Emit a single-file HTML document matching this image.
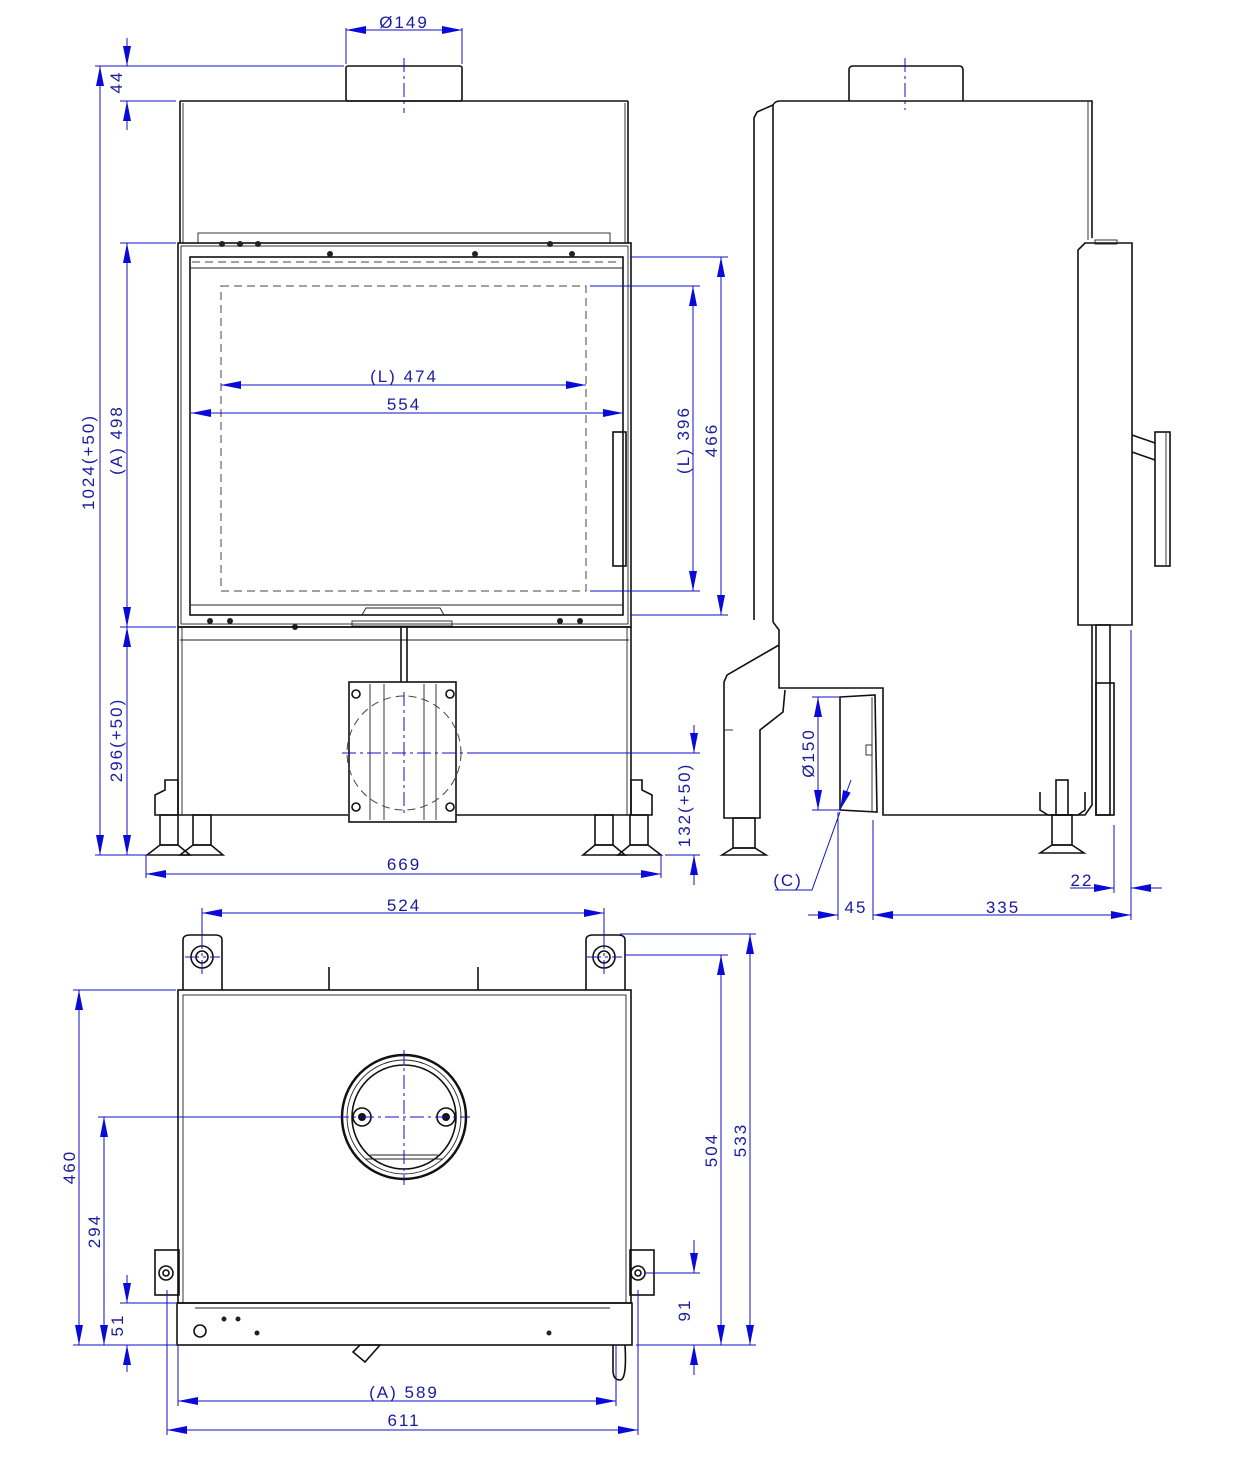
<!DOCTYPE html>
<html><head><meta charset="utf-8"><style>
html,body{margin:0;padding:0;background:#fff}
svg{display:block}
.k{fill:none;stroke:#111;stroke-width:1.6}
.t{fill:none;stroke:#222;stroke-width:0.9}
.d{stroke:#1010c8;stroke-width:1;fill:none}
.c{stroke:#1010c8;stroke-width:1;fill:none;stroke-dasharray:14 4 3 4}
.h{fill:none;stroke:#444;stroke-width:1;stroke-dasharray:8 5}
text{font-family:"Liberation Sans Narrow","Liberation Sans",sans-serif;font-size:17px;fill:#1a1aa0;letter-spacing:2px}
</style></head><body>
<svg width="1241" height="1471" viewBox="0 0 1241 1471" xmlns="http://www.w3.org/2000/svg">
<defs>
<marker id="a" viewBox="0 0 20 8" refX="20" refY="4" markerWidth="20" markerHeight="8" markerUnits="userSpaceOnUse" orient="auto-start-reverse"><path d="M0,0 L20,4 L0,8 Z" fill="#0a0ad8"/></marker>
</defs>

<!-- ========== FRONT VIEW ========== -->
<rect class="k" x="346" y="66" width="116" height="35" rx="2"/>
<line class="c" x1="404" y1="58" x2="404" y2="113"/>
<line class="k" x1="180" y1="101" x2="628" y2="101"/>
<line class="k" x1="180" y1="101" x2="180" y2="243"/>
<line class="k" x1="628" y1="101" x2="628" y2="243"/>
<line class="t" x1="183" y1="103" x2="183" y2="243"/>
<line class="t" x1="625" y1="103" x2="625" y2="243"/>
<rect class="t" x="198" y="233" width="412" height="10"/>
<!-- glass frame -->
<rect class="k" x="178" y="243" width="453" height="384"/>
<rect class="t" x="181" y="246" width="447" height="378"/>
<rect class="k" x="190" y="257" width="433" height="358"/>
<line class="h" x1="192" y1="262" x2="621" y2="262"/>
<line class="t" x1="190" y1="268" x2="623" y2="268"/>
<line class="t" x1="190" y1="605" x2="623" y2="605"/>
<rect class="h" x="221" y="286" width="365" height="305"/>
<rect class="k" x="613" y="432" width="13" height="134"/>
<path class="t" d="M362,615 L366,608 L440,608 L444,615"/>
<g fill="#222">
<circle cx="222" cy="244" r="3"/><circle cx="240" cy="244" r="3"/><circle cx="258" cy="244" r="3"/>
<circle cx="330" cy="254" r="3"/><circle cx="475" cy="254" r="3"/><circle cx="572" cy="254" r="3"/><circle cx="550" cy="244" r="3"/>
<circle cx="210" cy="621" r="3"/><circle cx="230" cy="621" r="3"/><circle cx="560" cy="621" r="3"/><circle cx="580" cy="621" r="3"/><circle cx="295" cy="627" r="3"/>
</g>
<rect class="t" x="352" y="621" width="100" height="5"/>
<!-- lower part -->
<line class="k" x1="178" y1="627" x2="631" y2="627"/>
<line class="t" x1="180" y1="640" x2="629" y2="640"/>
<line class="k" x1="178" y1="627" x2="178" y2="815"/>
<line class="k" x1="631" y1="627" x2="631" y2="815"/>
<line class="t" x1="182" y1="627" x2="182" y2="815"/>
<line class="t" x1="627" y1="627" x2="627" y2="815"/>
<line class="k" x1="178" y1="815" x2="348" y2="815"/>
<line class="k" x1="456" y1="815" x2="631" y2="815"/>
<line class="k" x1="401" y1="627" x2="401" y2="682"/>
<line class="k" x1="407" y1="627" x2="407" y2="682"/>
<rect class="k" x="349" y="682" width="107" height="140"/>
<line class="t" x1="370" y1="684" x2="370" y2="820"/><line class="t" x1="384" y1="684" x2="384" y2="820"/>
<line class="t" x1="424" y1="684" x2="424" y2="820"/><line class="t" x1="436" y1="684" x2="436" y2="820"/>
<circle class="k" cx="356" cy="694" r="4"/><circle class="k" cx="450" cy="694" r="4"/>
<circle class="k" cx="356" cy="807" r="4"/><circle class="k" cx="450" cy="807" r="4"/>
<circle class="h" cx="404" cy="753" r="57"/>
<line class="c" x1="404" y1="692" x2="404" y2="815"/>
<line class="c" x1="342" y1="753" x2="470" y2="753"/>
<!-- legs -->
<g class="k">
<path d="M165,780 L178,780 L178,815 L155,815 L155,795 L165,790 Z"/>
<rect x="160" y="815" width="18" height="30"/>
<rect x="193" y="815" width="18" height="30"/>
<path d="M147,855 L160,845 L178,845 L190,855 Z"/>
<path d="M180,855 L193,845 L211,845 L223,855 Z"/>
<path d="M631,780 L642,780 L642,790 L652,795 L652,815 L631,815 Z"/>
<rect x="595" y="815" width="18" height="30"/>
<rect x="630" y="815" width="18" height="30"/>
<path d="M583,855 L595,845 L613,845 L625,855 Z"/>
<path d="M618,855 L630,845 L648,845 L661,855 Z"/>
</g>

<!-- front dimensions -->
<line class="d" x1="346" y1="30" x2="462" y2="30" marker-start="url(#a)" marker-end="url(#a)"/>
<line class="d" x1="346" y1="28" x2="346" y2="64"/><line class="d" x1="462" y1="28" x2="462" y2="64"/>
<text x="404" y="28" text-anchor="middle">Ø149</text>
<line class="d" x1="95" y1="66" x2="344" y2="66"/>
<line class="d" x1="120" y1="101" x2="176" y2="101"/>
<line class="d" x1="127" y1="38" x2="127" y2="66" marker-end="url(#a)"/>
<line class="d" x1="127" y1="130" x2="127" y2="101" marker-end="url(#a)"/>
<text transform="translate(122,82) rotate(-90)" text-anchor="middle">44</text>
<line class="d" x1="100" y1="66" x2="100" y2="855" marker-start="url(#a)" marker-end="url(#a)"/>
<text transform="translate(94,462) rotate(-90)" text-anchor="middle">1024(+50)</text>
<line class="d" x1="120" y1="243" x2="176" y2="243"/>
<line class="d" x1="120" y1="627" x2="176" y2="627"/>
<line class="d" x1="127" y1="243" x2="127" y2="627" marker-start="url(#a)" marker-end="url(#a)"/>
<text transform="translate(122,440) rotate(-90)" text-anchor="middle">(A) 498</text>
<line class="d" x1="127" y1="627" x2="127" y2="855" marker-start="url(#a)" marker-end="url(#a)"/>
<text transform="translate(122,740) rotate(-90)" text-anchor="middle">296(+50)</text>
<line class="d" x1="95" y1="855" x2="150" y2="855"/>
<line class="d" x1="146" y1="855" x2="146" y2="878"/><line class="d" x1="661" y1="855" x2="661" y2="878"/>
<line class="d" x1="146" y1="874" x2="661" y2="874" marker-start="url(#a)" marker-end="url(#a)"/>
<text x="404" y="870" text-anchor="middle">669</text>
<line class="d" x1="221" y1="385" x2="586" y2="385" marker-start="url(#a)" marker-end="url(#a)"/>
<text x="404" y="382" text-anchor="middle">(L) 474</text>
<line class="d" x1="191" y1="413" x2="623" y2="413" marker-start="url(#a)" marker-end="url(#a)"/>
<text x="404" y="410" text-anchor="middle">554</text>
<line class="d" x1="590" y1="286" x2="700" y2="286"/>
<line class="d" x1="590" y1="591" x2="700" y2="591"/>
<line class="d" x1="630" y1="257" x2="728" y2="257"/>
<line class="d" x1="630" y1="615" x2="728" y2="615"/>
<line class="d" x1="693" y1="286" x2="693" y2="591" marker-start="url(#a)" marker-end="url(#a)"/>
<text transform="translate(689,440) rotate(-90)" text-anchor="middle">(L) 396</text>
<line class="d" x1="721" y1="257" x2="721" y2="615" marker-start="url(#a)" marker-end="url(#a)"/>
<text transform="translate(717,440) rotate(-90)" text-anchor="middle">466</text>
<line class="d" x1="470" y1="753" x2="700" y2="753"/>
<line class="d" x1="665" y1="855" x2="700" y2="855"/>
<line class="d" x1="694" y1="725" x2="694" y2="753" marker-end="url(#a)"/>
<line class="d" x1="694" y1="885" x2="694" y2="855" marker-end="url(#a)"/>
<text transform="translate(690,805) rotate(-90)" text-anchor="middle">132(+50)</text>

<!-- ========== SIDE VIEW ========== -->
<path class="k" d="M849,101 L849,70 Q849,66 853,66 L959,66 Q963,66 963,70 L963,101"/>
<line class="c" x1="905" y1="58" x2="905" y2="110"/>
<path class="k" d="M773,105 Q775,101 780,101 L1092,101 L1092,238"/>
<path class="k" d="M773,105 L757,112 L754,118 L754,620"/>
<line class="k" x1="773" y1="105" x2="773" y2="622"/>
<line class="t" x1="1088" y1="101" x2="1088" y2="240"/>
<path class="k" d="M1078,250 L1085,243 L1132,243 L1132,625 L1078,625 Z"/>
<rect class="t" x="1095" y="240" width="22" height="4"/>
<path class="k" d="M1132,435 L1155,443 M1132,452 L1155,460"/>
<rect class="k" x="1155" y="432" width="15" height="134"/>
<line class="t" x1="1166" y1="433" x2="1166" y2="565"/>
<!-- lower side -->
<path class="k" d="M773,622 L779,630 L779,688 L883,688 L883,815 L1085,815 L1092,805 L1092,625"/>
<path class="k" d="M779,645 L727,675 L724,682 L724,818 L760,818 L760,730 L783,712 L785,690"/>
<line class="t" x1="724" y1="730" x2="733" y2="730"/>
<path class="k" d="M840,697 L875,695 L877,812 L840,810 Z"/>
<line class="t" x1="872" y1="697" x2="872" y2="812"/>
<rect class="t" x="866" y="745" width="6" height="10"/>
<rect class="k" x="1096" y="625" width="14" height="190"/>
<rect class="k" x="1096" y="683" width="18" height="132"/>
<g class="k">
<rect x="733" y="818" width="22" height="30"/>
<path d="M722,855 L733,848 L755,848 L766,855 Z"/>
<path d="M1040,792 L1040,810 L1048,815 L1078,815 L1085,810 L1085,792"/>
<rect x="1056" y="780" width="12" height="35"/>
<rect x="1052" y="815" width="20" height="30"/>
<path d="M1040,853 L1052,845 L1072,845 L1084,853 Z"/>
</g>
<!-- side dims -->
<line class="d" x1="818" y1="697" x2="818" y2="810" marker-start="url(#a)" marker-end="url(#a)"/>
<line class="d" x1="812" y1="697" x2="840" y2="697"/><line class="d" x1="812" y1="810" x2="840" y2="810"/>
<text transform="translate(814,753) rotate(-90)" text-anchor="middle">Ø150</text>
<line class="d" x1="851" y1="780" x2="840" y2="810" marker-end="url(#a)"/>
<polyline class="d" points="775,890 812,890 840,812"/>
<text x="788" y="886" text-anchor="middle">(C)</text>
<line class="d" x1="838" y1="812" x2="838" y2="920"/>
<line class="d" x1="873" y1="820" x2="873" y2="920"/>
<line class="d" x1="1131" y1="630" x2="1131" y2="920"/>
<line class="d" x1="1114" y1="825" x2="1114" y2="893"/>
<line class="d" x1="808" y1="915" x2="838" y2="915" marker-end="url(#a)"/>
<line class="d" x1="873" y1="915" x2="1131" y2="915" marker-start="url(#a)" marker-end="url(#a)"/>
<text x="856" y="913" text-anchor="middle">45</text>
<text x="1003" y="913" text-anchor="middle">335</text>
<line class="d" x1="1070" y1="888" x2="1114" y2="888" marker-end="url(#a)"/>
<line class="d" x1="1162" y1="888" x2="1131" y2="888" marker-end="url(#a)"/>
<text x="1082" y="886" text-anchor="middle">22</text>

<!-- ========== TOP VIEW ========== -->
<rect class="k" x="178" y="990" width="453" height="313"/>
<rect class="t" x="183" y="995" width="443" height="308"/>
<rect class="k" x="177" y="1303" width="455" height="42"/>
<line class="t" x1="195" y1="1308" x2="610" y2="1308"/>
<line class="k" x1="329" y1="967" x2="329" y2="990"/>
<line class="k" x1="478" y1="967" x2="478" y2="990"/>
<!-- top bolts -->
<g class="k">
<path d="M183,990 L183,940 Q183,935 190,935 L215,935 Q222,935 222,940 L222,990"/>
<circle cx="202" cy="957" r="11"/><circle cx="202" cy="957" r="6"/>
<path d="M586,990 L586,940 Q586,935 593,935 L618,935 Q625,935 625,940 L625,990"/>
<circle cx="604" cy="957" r="11"/><circle cx="604" cy="957" r="6"/>
<rect x="155" y="1250" width="24" height="45"/>
<circle cx="166" cy="1273" r="7"/><circle cx="166" cy="1273" r="3"/>
<rect x="630" y="1250" width="24" height="45"/>
<circle cx="638" cy="1273" r="7"/><circle cx="638" cy="1273" r="3"/>
<circle cx="200" cy="1331" r="6"/>
<path d="M353,1352 L360,1345 L380,1345 L365,1362 Z"/>
<path d="M613,1345 L613,1370 Q613,1380 620,1380 Q627,1380 625,1345"/>
</g>
<g fill="#222"><circle cx="224" cy="1319" r="2.5"/><circle cx="238" cy="1319" r="2.5"/><circle cx="257" cy="1333" r="2.5"/><circle cx="549" cy="1333" r="2.5"/></g>
<circle cx="404" cy="1117" r="62" fill="none" stroke="#111" stroke-width="2.5"/>
<circle class="t" cx="404" cy="1117" r="57"/>
<circle class="k" cx="404" cy="1117" r="52"/>
<circle class="k" cx="362" cy="1117" r="9"/><circle cx="362" cy="1117" r="4" fill="#111"/>
<circle class="k" cx="446" cy="1117" r="9"/><circle cx="446" cy="1117" r="4" fill="#111"/>
<line class="t" x1="370" y1="1155" x2="438" y2="1155"/>
<line class="t" x1="366" y1="1159" x2="442" y2="1159"/>
<line class="c" x1="404" y1="1050" x2="404" y2="1185"/>
<line class="c" x1="335" y1="1117" x2="470" y2="1117"/>
<line class="c" x1="202" y1="935" x2="202" y2="975"/><line class="c" x1="185" y1="957" x2="220" y2="957"/>
<line class="c" x1="604" y1="935" x2="604" y2="975"/><line class="c" x1="587" y1="957" x2="622" y2="957"/>
<!-- top view dims -->
<line class="d" x1="202" y1="908" x2="202" y2="935"/><line class="d" x1="604" y1="908" x2="604" y2="935"/>
<line class="d" x1="202" y1="913" x2="604" y2="913" marker-start="url(#a)" marker-end="url(#a)"/>
<text x="404" y="911" text-anchor="middle">524</text>
<line class="d" x1="620" y1="934" x2="756" y2="934"/>
<line class="d" x1="625" y1="955" x2="728" y2="955"/>
<line class="d" x1="636" y1="1345" x2="756" y2="1345"/>
<line class="d" x1="750" y1="934" x2="750" y2="1345" marker-start="url(#a)" marker-end="url(#a)"/>
<text transform="translate(746,1140) rotate(-90)" text-anchor="middle">533</text>
<line class="d" x1="721" y1="955" x2="721" y2="1345" marker-start="url(#a)" marker-end="url(#a)"/>
<text transform="translate(717,1150) rotate(-90)" text-anchor="middle">504</text>
<line class="d" x1="645" y1="1273" x2="700" y2="1273"/>
<line class="d" x1="694" y1="1240" x2="694" y2="1273" marker-end="url(#a)"/>
<line class="d" x1="694" y1="1375" x2="694" y2="1345" marker-end="url(#a)"/>
<text transform="translate(690,1310) rotate(-90)" text-anchor="middle">91</text>
<line class="d" x1="73" y1="990" x2="176" y2="990"/>
<line class="d" x1="98" y1="1117" x2="335" y2="1117"/>
<line class="d" x1="120" y1="1303" x2="176" y2="1303"/>
<line class="d" x1="73" y1="1345" x2="176" y2="1345"/>
<line class="d" x1="79" y1="990" x2="79" y2="1345" marker-start="url(#a)" marker-end="url(#a)"/>
<text transform="translate(75,1167) rotate(-90)" text-anchor="middle">460</text>
<line class="d" x1="104" y1="1117" x2="104" y2="1345" marker-start="url(#a)" marker-end="url(#a)"/>
<text transform="translate(100,1231) rotate(-90)" text-anchor="middle">294</text>
<line class="d" x1="127" y1="1275" x2="127" y2="1303" marker-end="url(#a)"/>
<line class="d" x1="127" y1="1372" x2="127" y2="1345" marker-end="url(#a)"/>
<text transform="translate(123,1325) rotate(-90)" text-anchor="middle">51</text>
<line class="d" x1="178" y1="1345" x2="178" y2="1406"/><line class="d" x1="616" y1="1345" x2="616" y2="1406"/>
<line class="d" x1="178" y1="1401" x2="616" y2="1401" marker-start="url(#a)" marker-end="url(#a)"/>
<text x="404" y="1398" text-anchor="middle">(A) 589</text>
<line class="d" x1="167" y1="1290" x2="167" y2="1435"/><line class="d" x1="638" y1="1290" x2="638" y2="1435"/>
<line class="d" x1="167" y1="1430" x2="638" y2="1430" marker-start="url(#a)" marker-end="url(#a)"/>
<text x="404" y="1426" text-anchor="middle">611</text>
</svg>
</body></html>
